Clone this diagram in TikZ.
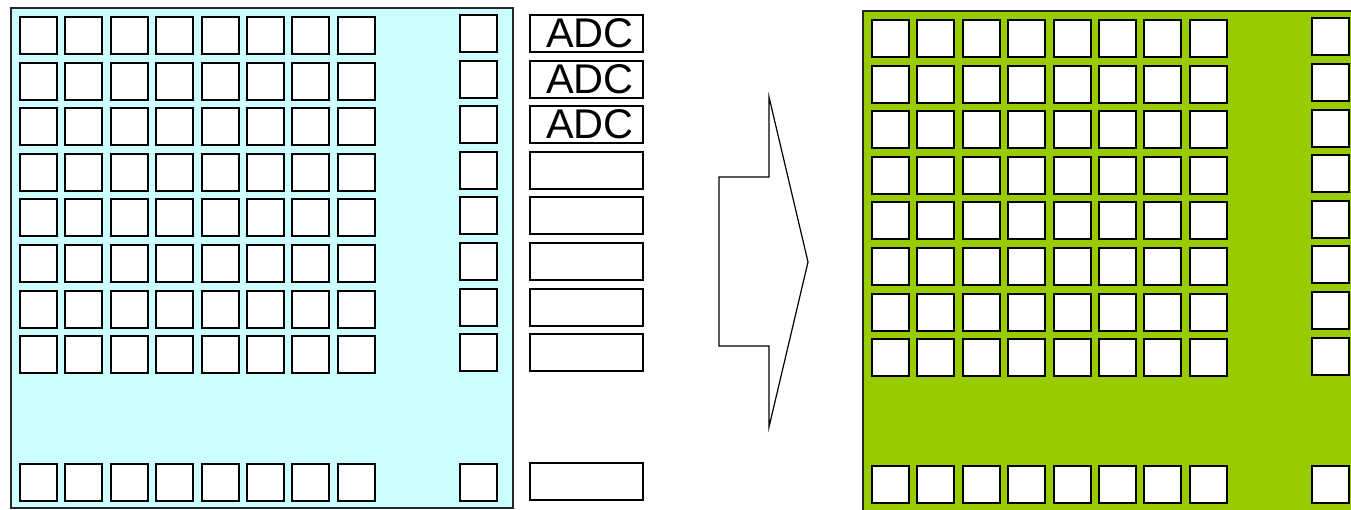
\documentclass[tikz,border=0pt]{standalone}
\usepackage{fontspec}
\setmainfont{Liberation Sans}
\definecolor{panelcyan}{HTML}{CCFFFF}
\definecolor{panelgreen}{HTML}{99CC00}
\begin{document}
\begin{tikzpicture}[x=1pt,y=-1pt,
  panel/.style={draw=black!85,line width=1.5pt},
  sq/.style={draw=black,fill=white,line width=2pt,minimum width=37pt,minimum height=37pt,inner sep=0pt,anchor=north west},
  adcbox/.style={draw=black,fill=white,line width=2pt,minimum width=113pt,minimum height=37pt,inner sep=0pt,anchor=north west,font=\fontsize{41.5}{41.5}\selectfont},
  bigarrow/.style={draw=black,line width=1.2pt,line join=miter}]
\useasboundingbox (0,0) rectangle (1351,510);
% left panel
\path[panel,fill=panelcyan] (11,8) rectangle (513,508);
\foreach \i in {0,...,7}{
  \foreach \j in {0,...,7}{
    \node[sq] (L-\i-\j) at ({19+45.4*\i},{16+45.6*\j}) {};
  }
  \node[sq] (LB-\i) at ({19+45.4*\i},463) {};
}
\foreach \j in {0,...,7}{
  \node[sq] (LR-\j) at (459,{14+45.6*\j}) {};
}
\node[sq] (LRB) at (459,463) {};
% ADC column
\foreach \j in {0,1,2}{
  \node[adcbox] (A-\j) at (529,{14+45.6*\j}) {\hspace*{7pt}ADC};
}
\foreach \j in {3,...,7}{
  \node[adcbox] (A-\j) at (529,{14+45.6*\j}) {};
}
\node[adcbox] (AB) at (529,462) {};
% arrow
\draw[bigarrow] (719,177) coordinate (a1) -- (769,177) -- (769,97) -- (808,262) coordinate (tip) -- (769,427) -- (769,346) -- (719,346) -- cycle;
% right panel
\path[panel,fill=panelgreen] (863,11) rectangle (1366,514);
\foreach \i in {0,...,7}{
  \foreach \j in {0,...,7}{
    \node[sq] (R-\i-\j) at ({871+45.4*\i},{19+45.6*\j}) {};
  }
  \node[sq] (RB-\i) at ({871+45.4*\i},465) {};
}
\foreach \j in {0,...,7}{
  \node[sq] (RR-\j) at (1311,{17.5+45.6*\j}) {};
}
\node[sq] (RRB) at (1311,465) {};
\end{tikzpicture}
\end{document}
